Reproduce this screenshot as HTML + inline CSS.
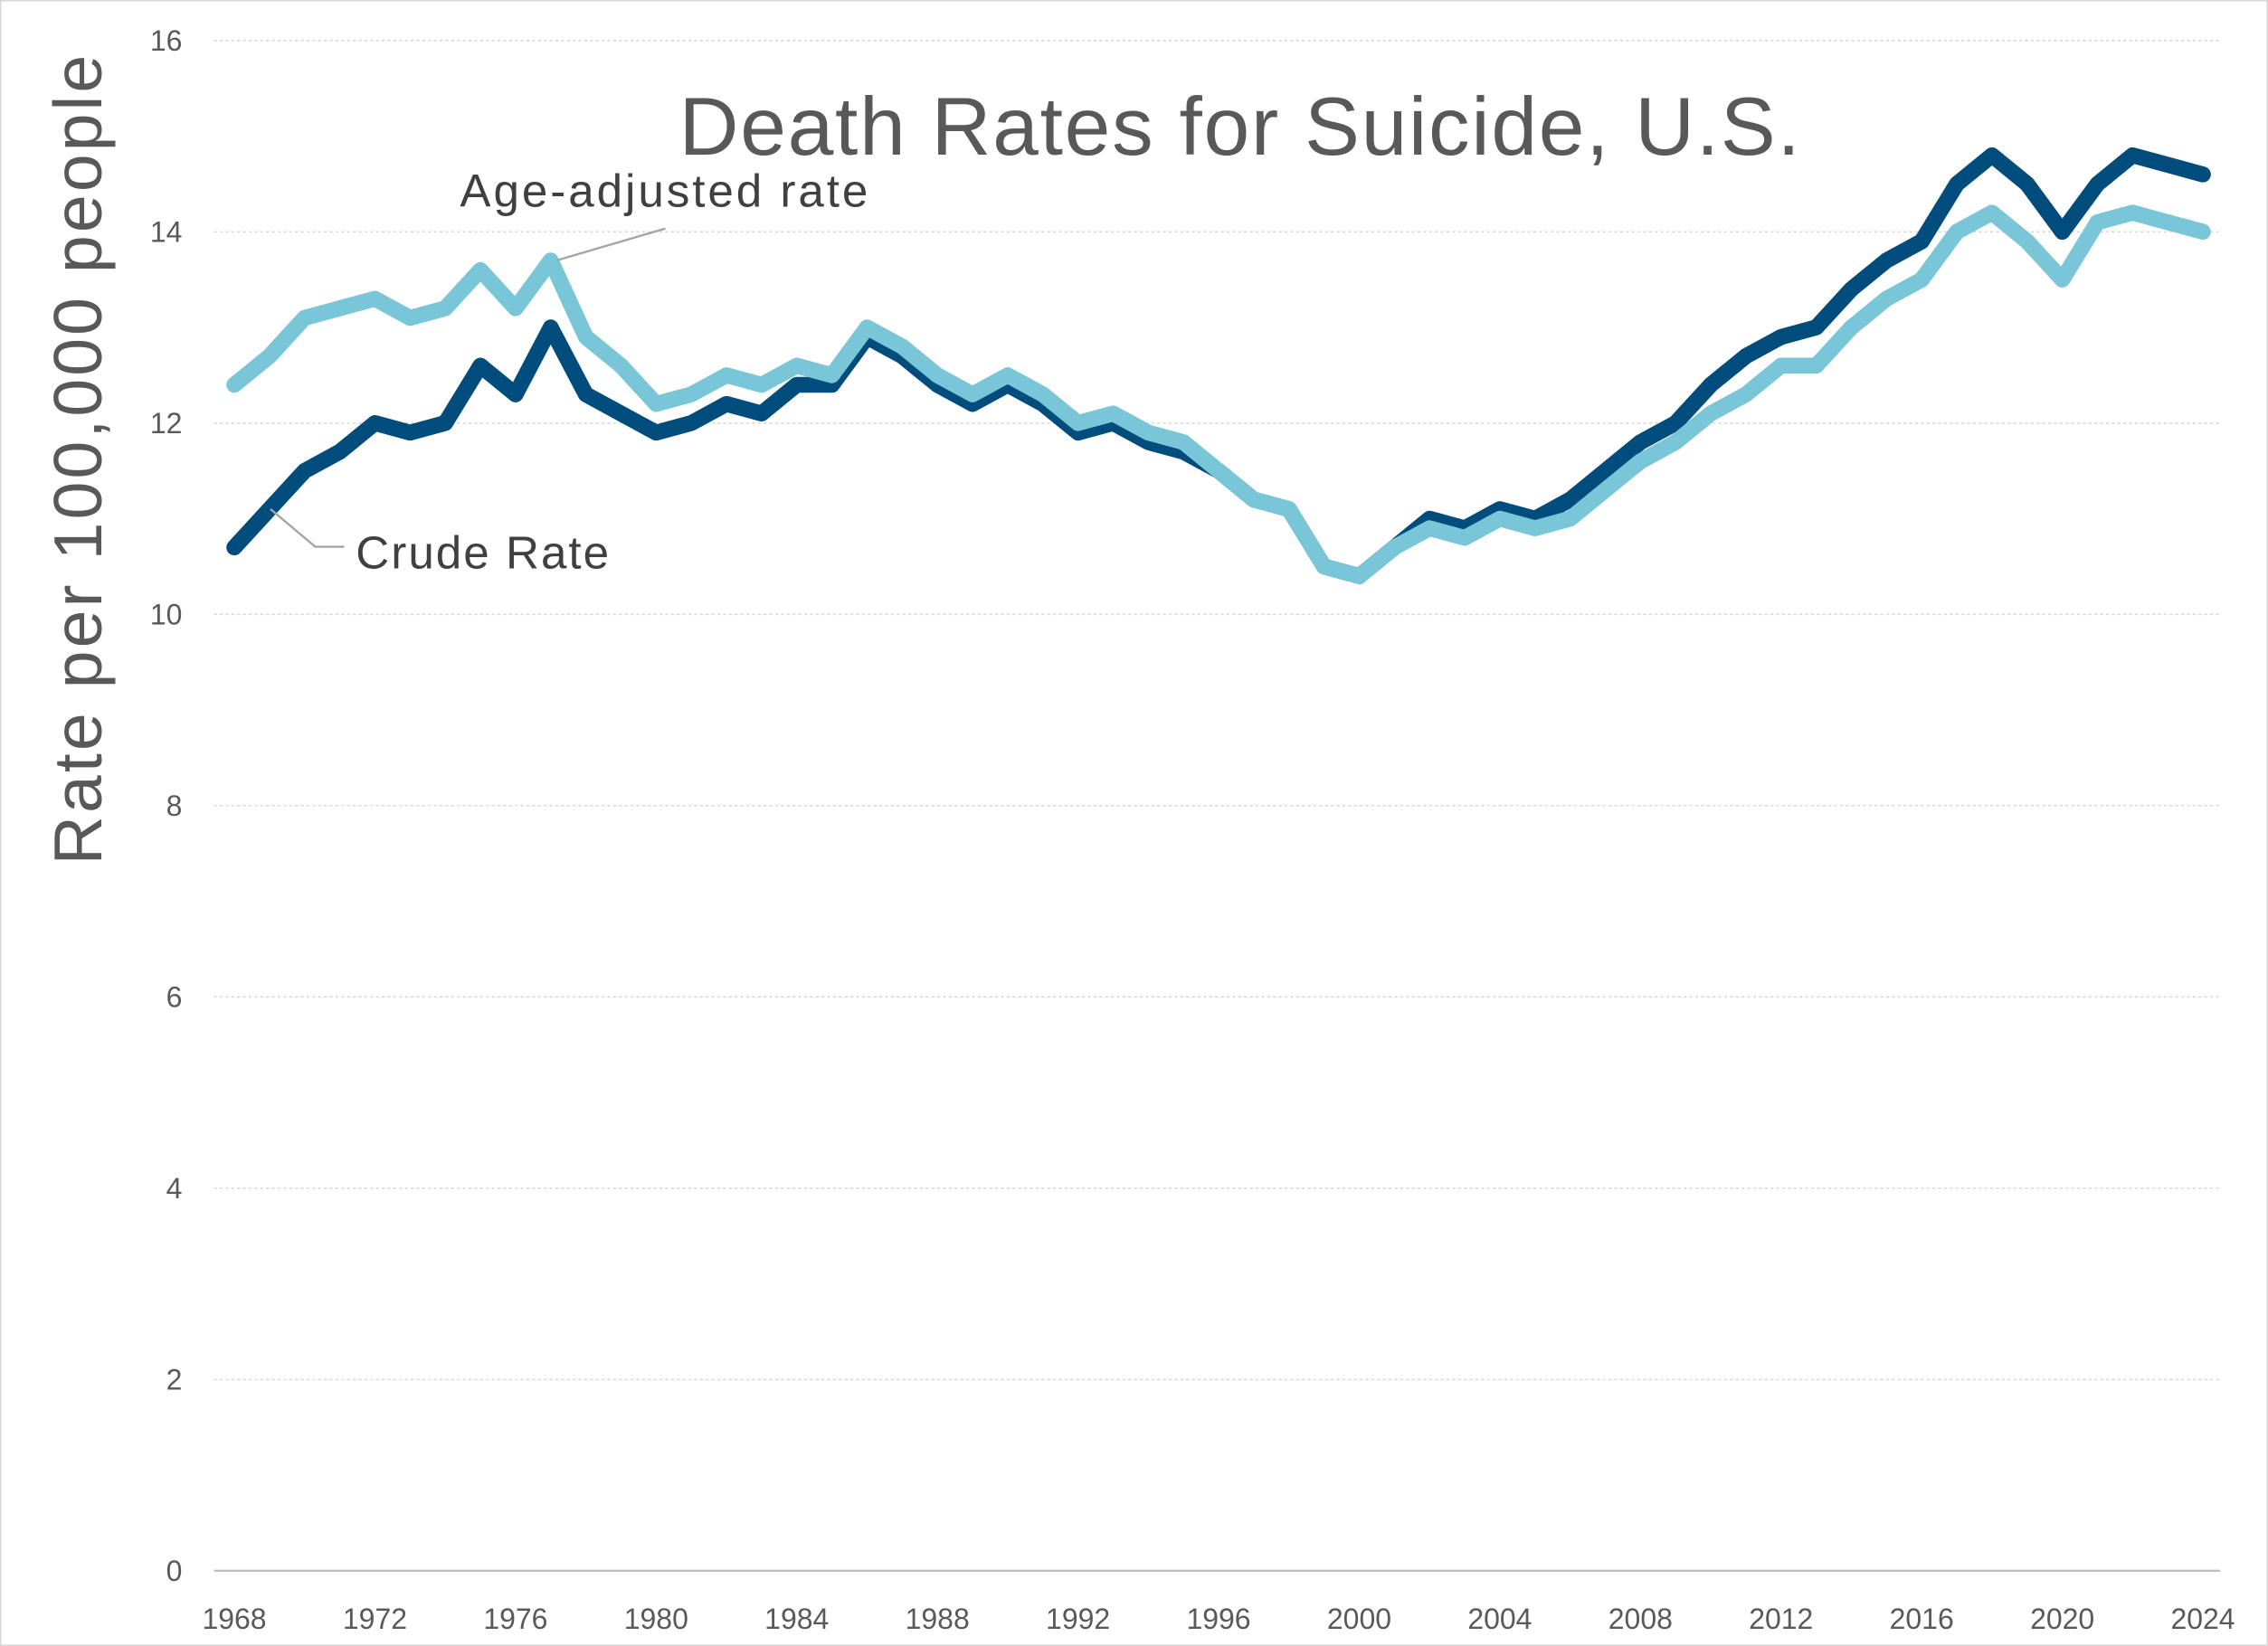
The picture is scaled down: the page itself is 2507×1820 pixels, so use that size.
<!DOCTYPE html>
<html><head><meta charset="utf-8"><style>
html,body{margin:0;padding:0;background:#fff;}
svg{display:block;font-family:"Liberation Sans",sans-serif;}
</style></head><body>
<svg id="chart" width="2507" height="1820" viewBox="0 0 1568 1138" preserveAspectRatio="none" xmlns="http://www.w3.org/2000/svg">
<rect x="0.5" y="0.5" width="1567" height="1137" fill="#fff" stroke="#d9d9d9"/>
<g id="grid"></g><g id="yticks"></g><g id="xticks"></g><g id="series"></g>
<text x="857" y="107" text-anchor="middle" font-size="57" fill="#595959" textLength="775" lengthAdjust="spacing">Death Rates for Suicide, U.S.</text>
<text transform="translate(70,318) rotate(-90)" text-anchor="middle" font-size="47" fill="#595959" textLength="560" lengthAdjust="spacing">Rate per 100,000 people</text>
<line x1="460" y1="158" x2="385" y2="180" stroke="#a6a6a6" stroke-width="1.5"/>
<text x="318" y="143" font-size="32" fill="#404040" textLength="282" lengthAdjust="spacing">Age-adjusted rate</text>
<polyline points="187,352 218,378 238,378" fill="none" stroke="#a6a6a6" stroke-width="1.5"/>
<text x="246" y="393" font-size="32" fill="#404040" textLength="175" lengthAdjust="spacing">Crude Rate</text>
</svg>
<script>
const years=[];for(let y=1968;y<=2024;y++)years.push(y);
const crude=[10.7,11.1,11.5,11.7,12.0,11.9,12.0,12.6,12.3,13.0,12.3,12.1,11.9,12.0,12.2,12.1,12.4,12.4,12.9,12.7,12.4,12.2,12.4,12.2,11.9,12.0,11.8,11.7,11.5,11.2,11.1,10.5,10.4,10.7,11.0,10.9,11.1,11.0,11.2,11.5,11.8,12.0,12.4,12.7,12.9,13.0,13.4,13.7,13.9,14.5,14.8,14.5,14.0,14.5,14.8,14.7,14.6];
const ageAdjusted=[12.4,12.7,13.1,13.2,13.3,13.1,13.2,13.6,13.2,13.7,12.9,12.6,12.2,12.3,12.5,12.4,12.6,12.5,13.0,12.8,12.5,12.3,12.5,12.3,12.0,12.1,11.9,11.8,11.5,11.2,11.1,10.5,10.4,10.7,10.9,10.8,11.0,10.9,11.0,11.3,11.6,11.8,12.1,12.3,12.6,12.6,13.0,13.3,13.5,14.0,14.2,13.9,13.5,14.1,14.2,14.1,14.0];
const yTicks=[0,2,4,6,8,10,12,14,16];
const xTicks=[1968,1972,1976,1980,1984,1988,1992,1996,2000,2004,2008,2012,2016,2020,2024];
const NS="http://www.w3.org/2000/svg";
const X=y=>162+(y-1968)*(1523-162)/56;
const Y=v=>1086-v*(1086-28)/16;
function mk(tag,attrs,parent){const e=document.createElementNS(NS,tag);for(const k in attrs)e.setAttribute(k,attrs[k]);document.getElementById(parent).appendChild(e);return e;}
yTicks.forEach(v=>{
 const l=mk('line',{x1:148,x2:1535,y1:Y(v),y2:Y(v),stroke:v===0?'#bfbfbf':'#d9d9d9','stroke-width':v===0?1.5:1,'stroke-dasharray':v===0?'':'2,2'},'grid');
 
 
 const t=mk('text',{x:126,y:Y(v)+7,'text-anchor':'end','font-size':20,fill:'#595959'},'yticks');
 t.textContent=v;
 
 
});
xTicks.forEach(y=>{
 const t=mk('text',{x:X(y),y:1126,'text-anchor':'middle','font-size':20,fill:'#595959'},'xticks');
 t.textContent=y;
 
 
});
function line(vals,color,w,name){
 const p=mk('polyline',{points:vals.map((v,i)=>X(years[i])+','+Y(v)).join(' '),fill:'none',stroke:color,'stroke-width':w,'stroke-linejoin':'round','stroke-linecap':'round'},'series');
 
 
}
line(crude,'#004c7c',11,'crude-rate-line');
line(ageAdjusted,'#78c6d7',11,'age-adjusted-rate-line');
</script>
</body></html>
